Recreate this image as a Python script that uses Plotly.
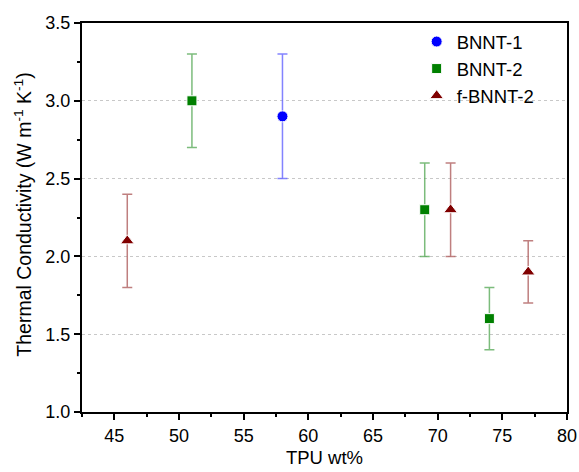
import plotly.graph_objects as go

bnnt1_x = [58]
bnnt1_y = [2.9]
bnnt1_err = [0.4]

bnnt2_x = [51, 69, 74]
bnnt2_y = [3.0, 2.3, 1.6]
bnnt2_err = [0.3, 0.3, 0.2]

fbnnt2_x = [46, 71, 77]
fbnnt2_y = [2.1, 2.3, 1.9]
fbnnt2_err = [0.3, 0.3, 0.2]

x_ticks = [45, 50, 55, 60, 65, 70, 75, 80]
y_ticks = [1.0, 1.5, 2.0, 2.5, 3.0, 3.5]

font = "Liberation Sans, Arial, sans-serif"

fig = go.Figure()
series = [
    ("BNNT-1", bnnt1_x, bnnt1_y, bnnt1_err, "#0000ff", "rgba(100,100,255,0.8)", "circle", 11),
    ("BNNT-2", bnnt2_x, bnnt2_y, bnnt2_err, "#008000", "rgba(80,165,80,0.75)", "square", 10),
    ("f-BNNT-2", fbnnt2_x, fbnnt2_y, fbnnt2_err, "#800000", "rgba(175,95,95,0.8)", "triangle-up", 12),
]
for name, xs, ys, es, col, ecol, sym, sz in series:
    fig.add_trace(go.Scatter(
        x=xs, y=ys, name=name, mode="markers",
        marker=dict(color=col, symbol=sym, size=sz, line=dict(color="white", width=1)),
        error_y=dict(type="data", array=es, visible=True, color=ecol, thickness=1.5, width=5),
    ))

fig.update_layout(
    width=579, height=472,
    margin=dict(l=82, r=12, t=23, b=60),
    plot_bgcolor="white", paper_bgcolor="white",
    font=dict(family=font, size=18, color="black"),
    legend=dict(x=0.69, y=1.0, xanchor="left", yanchor="top",
                bgcolor="rgba(0,0,0,0)", font=dict(size=18.5),
                itemwidth=30, tracegroupgap=0),
    showlegend=True,
)
fig.add_annotation(
    text="Thermal Conductivity (W m<sup>-1</sup> K<sup>-1</sup>)",
    xref="paper", yref="paper", x=-0.121, y=0.508, xanchor="center", yanchor="middle",
    textangle=-90, showarrow=False, font=dict(size=19.5),
)
fig.update_xaxes(
    range=[42.5, 80], tickvals=x_ticks, showgrid=False, zeroline=False, automargin=False,
    showline=True, linecolor="black", linewidth=2, mirror=True,
    ticks="outside", ticklen=6, tickwidth=2, tickcolor="black",
    minor=dict(dtick=2.5, tick0=42.5, ticks="outside", ticklen=3, tickwidth=2, tickcolor="black", showgrid=False),
    title=dict(text="TPU wt%", font=dict(size=18.5), standoff=6),
    tickfont=dict(size=18),
)
fig.update_yaxes(
    range=[1.0, 3.5], tickvals=y_ticks, tickformat=".1f", zeroline=False, automargin=False,
    showgrid=True, gridcolor="#c8c8c8", griddash="dot", gridwidth=1,
    showline=True, linecolor="black", linewidth=2, mirror=True,
    ticks="outside", ticklen=6, tickwidth=2, tickcolor="black",
    minor=dict(dtick=0.25, tick0=1.0, ticks="outside", ticklen=3, tickwidth=2, tickcolor="black", showgrid=False),
    tickfont=dict(size=18),
)
fig.write_html("out.html", config={"displayModeBar": False},
               post_script="document.body.style.margin='0';")
